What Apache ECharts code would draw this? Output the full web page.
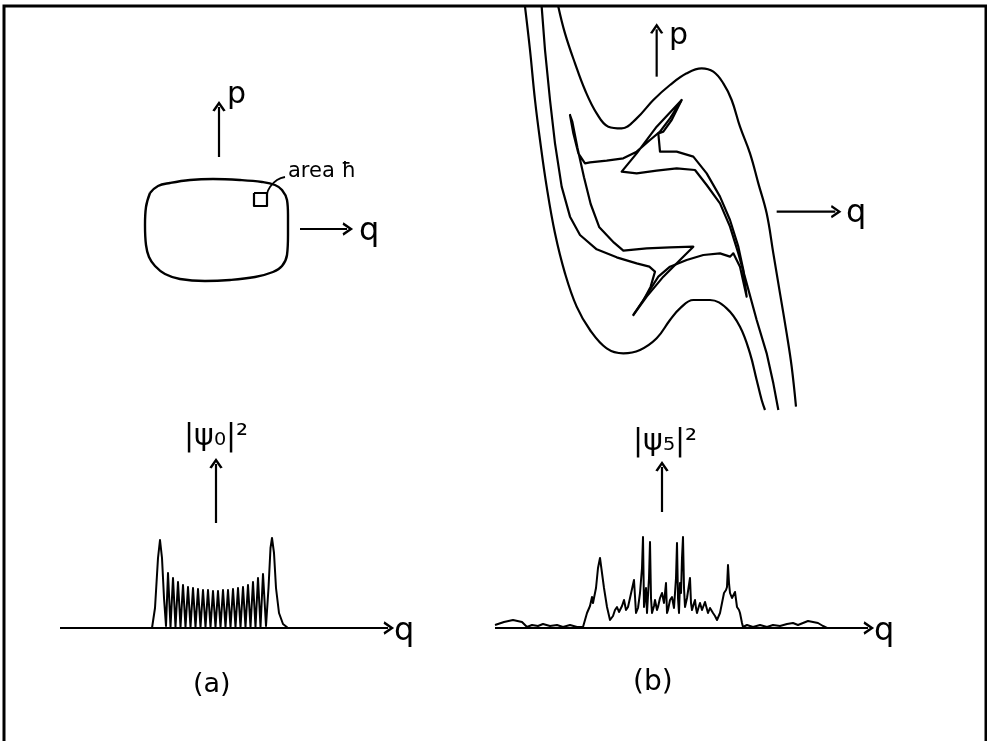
<!DOCTYPE html>
<html><head><meta charset="utf-8">
<script src="https://cdn.jsdelivr.net/npm/echarts@6/dist/echarts.min.js"></script>
<style>html,body{margin:0;padding:0;background:#fff}#c{width:987px;height:741px}</style>
</head><body><div id="c"></div>
<script>
// ---------- DATA ----------
// (a) phase space: regular orbit [q, p] (grid units)
const orbitA = [[50,133],[58,126],[70,123],[90,120],[113,119],[140,120],[162,122],[175,125],[182,130],[187,140],[188,155],[188,175],[187,195],[182,206],[173,212],[155,217],[130,220],[105,221],[80,219],[65,214],[55,206],[49,197],[46,185],[45,165],[46,147],[50,133]];
const cellA = [[154,133],[167,133],[167,146],[154,146],[154,133]];
const cellLeader = [[167,134],[170,127],[177,120],[185,117]];
// (a) |psi_0|^2 versus q
const psi0 = [[0,0],[92,0],[95,20],[98,70],[100,88],[102,70],[104,30],[106,2],
 [108,55],[110.5,1],[113,50],[115.5,1],[118,46],[120.5,1],[123,43],[125.5,1],[128,41],[130.5,1],[133,40],[135.5,1],
 [138,39],[140.5,1],[143,38],[145.5,1],[148,38],[150.5,1],[153,37],[155.5,1],[158,37],[160.5,1],[163,38],[165.5,1],
 [168,38],[170.5,1],[173,39],[175.5,1],[178,40],[180.5,1],[183,41],[185.5,1],[188,43],[190.5,1],[193,46],[195.5,1],
 [198,50],[200.5,1],[203,54],[206,2],[208.5,40],[210.5,80],[212,90],[214,75],[216,40],[219,15],[223,4],[228,0],[265,0]];
// (b) chaotic phase space curves [q, p] (grid units)
const curveB1 = [[105,20],[120,150],[135,300],[150,420],[170,560],[195,700],[225,820],[260,920],[300,990],[350,1045],[400,1060],[450,1050],[500,1015],[540,960],[570,925],[610,900],[660,900],[710,925],[750,980],[780,1060],[800,1140],[815,1200],[825,1230]];
const curveB3 = [[205,20],[225,100],[255,190],[285,270],[320,340],[355,380],[395,385],[440,355],[490,300],[540,255],[590,220],[635,205],[670,215],[700,250],[725,300],[750,380],[780,460],[805,550],[830,640],[850,760],[870,880],[890,1000],[905,1100],[918,1220]];
// folded filament: enters top-left, folds through both cusps, exits bottom
const filament = [[155,20],[165,150],[180,300],[195,430],[215,560],[240,650],[270,705],[320,748],[380,772],[440,790],[478,800],[495,815],[482,860],[458,905],[430,945],
 [470,890],[520,830],[570,780],[610,740],[540,742],[470,745],[400,752],[372,728],[328,682],[302,612],[282,532],[262,442],[247,365],[240,345],
 [250,400],[265,460],[285,490],[300,487],[350,482],[400,475],[440,455],[480,420],[510,395],[540,355],[575,300],
 [500,380],[440,460],[395,515],[440,520],[500,512],[560,505],[615,510],[650,555],[690,610],[720,680],[745,760],[770,850],[800,960],[830,1060],[850,1150],[865,1230]];
// thin strip joining the two cusps
const strip = [[575,300],[545,360],[520,395],[505,400],[510,455],[560,455],[610,470],[650,520],[690,590],[720,660],[745,740],[760,810],[770,890],
 [750,800],[730,760],[720,770],[690,760],[640,765],[590,780],[540,800],[505,830],[470,885],[430,945]];
// (b) |psi_5|^2 versus q
const psi5 = [[5,3],[14,6],[23,8],[32,6],[37,1],[42,3],[48,2],[53,4],[60,2],[67,3],[73,1],[80,3],[87,1],[93,1],
 [97,15],[100,22],[102,31],[103,25],[106,40],[108,60],[110,70],[112,55],[114,40],[117,21],[120,8],[123,12],[125,18],[127,21],[129,16],[132,22],[134,28],[136,18],[138,21],[140,30],[142,31],[144,48],[146,15],[148,20],[150,35],[152,60],[153,91],[154,21],[156,40],[157,15],[159,50],[160,86],[161,30],[162,15],[164,22],[165,28],[167,18],[168,21],[170,30],[172,35],[174,25],[176,45],[177,15],[178,18],[180,28],[182,31],[184,20],[185,18],[186,50],[187,85],[188,30],[189,15],[190,45],[191,35],[192,70],[193,91],[194,40],[195,21],[197,30],[200,50],[201,25],[202,18],[204,25],[205,28],[206,20],[207,15],[209,22],[210,25],[212,18],[213,18],[215,26],[216,28],[218,15],[220,20],[221,21],[223,15],[225,12],[227,8],[230,15],[232,25],[234,35],[236,38],[237,41],[238,63],[239,45],[240,35],[242,30],[243,28],[245,36],[247,21],[249,18],[250,15],[252,5],[253,1],
 [257,3],[263,1],[270,3],[277,1],[283,3],[290,2],[297,4],[303,5],[308,3],[313,5],[318,7],[323,6],[328,5],[333,2],[337,0]];
// axes / arrows (start, end)
const arrowsA = { p: [[119,97],[119,47]], q: [[200,169],[247,169]] };
const arrowsB = { p: [[500,230],[500,88]], q: [[860,635],[1036,635]] };
const axisWA = [[3,0],[328,0]], upWA = [[156,105],[156,164]];
const axisWB = [[5,0],[378,0]], upWB = [[172,116],[172,161]];

// ---------- CHART ----------
const chart = echarts.init(document.getElementById('c'));
const ink = '#000';
const V = 'path://M0,10L5,0L10,10';
function curve(data, g, w, smooth) {
  return { type:'line', xAxisIndex:g, yAxisIndex:g, data:data, showSymbol:false, smooth:smooth||0, silent:true, clip:false,
    lineStyle:{color:ink, width:w||2, join:'round'}, animation:false };
}
function arrow(pts, g, rot) {
  return { type:'line', xAxisIndex:g, yAxisIndex:g, silent:true, clip:false, animation:false,
    lineStyle:{color:ink, width:2.2},
    data:[{value:pts[0], symbol:'none'}, {value:pts[1], symbol:V, symbolSize:[11,8], symbolRotate:rot, symbolKeepAspect:false,
      itemStyle:{color:'rgba(0,0,0,0)', borderColor:ink, borderWidth:2.2}}],
    showSymbol:true, showAllSymbol:true };
}
const grids = [
  {left:100, top:60, width:300, height:260},
  {left:60, top:400, width:350, height:228},
  {left:490, top:0, width:400, height:420},
  {left:490, top:400, width:400, height:228}
];
const xr = [[0,300],[0,350],[0,1200],[0,400]];
const yr = [[0,260,true],[0,228,false],[0,1260,true],[0,228,false]];
const font = '"DejaVu Sans", sans-serif';
function txt(t, x, y, size) {
  return {type:'text', x:x, y:y, silent:true, style:{text:t, fill:ink, font:size+'px '+font, textVerticalAlign:'middle'}};
}
chart.setOption({
  backgroundColor:'#fff',
  animation:false,
  grid: grids,
  xAxis: xr.map((r,i)=>({type:'value', gridIndex:i, min:r[0], max:r[1], show:false})),
  yAxis: yr.map((r,i)=>({type:'value', gridIndex:i, min:r[0], max:r[1], inverse:r[2], show:false})),
  series: [
    curve(orbitA,0,2.4,0.4), curve(cellA,0,2.2,0), curve(cellLeader,0,1.8,0.5),
    arrow(arrowsA.p,0,0), arrow(arrowsA.q,0,-90),
    curve(psi0,1,2,0), arrow(axisWA,1,-90), arrow(upWA,1,0),
    curve(curveB1,2,2.2,0.4), curve(curveB3,2,2.2,0.4),
    curve(filament,2,2.2,0), curve(strip,2,2.2,0),
    arrow(arrowsB.p,2,0), arrow(arrowsB.q,2,-90),
    curve(psi5,3,2,0), arrow(axisWB,3,-90), arrow(upWB,3,0)
  ],
  graphic: [
    {type:'rect', silent:true, shape:{x:4,y:6,width:982,height:745}, style:{fill:'none', stroke:ink, lineWidth:3}},
    txt('p',227,95,30), txt('q',359,232,32), txt('area ħ',288,172,21),
    txt('p',669,36,30), txt('q',846,214,32),
    txt('q',394,632,32), txt('q',874,632,32),
    txt('|ψ₀|²',184,437,30), txt('|ψ₅|²',633,442,30),
    txt('(a)',193,685,27), txt('(b)',633,683,28)
  ]
});
</script></body></html>
